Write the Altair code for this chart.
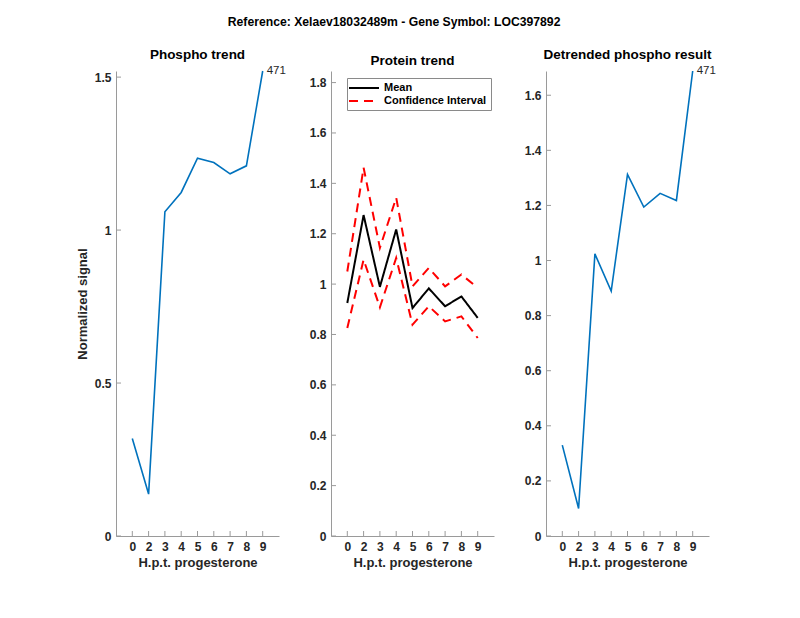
import altair as alt
import pandas as pd

hours = ["0", "2", "3", "4", "5", "6", "7", "8", "9"]
phospho = [0.319, 0.137, 1.06, 1.123, 1.235, 1.221, 1.184, 1.21, 1.52]
prot_mean = [0.925, 1.274, 0.989, 1.217, 0.905, 0.983, 0.912, 0.951, 0.866]
prot_upper = [1.05, 1.462, 1.144, 1.343, 0.991, 1.064, 0.991, 1.038, 0.985]
prot_lower = [0.826, 1.097, 0.908, 1.104, 0.839, 0.912, 0.852, 0.872, 0.786]
detrended = [0.33, 0.10, 1.024, 0.889, 1.313, 1.194, 1.244, 1.218, 1.688]
peptide_id = "471"

yticks1 = [0, 0.5, 1, 1.5]
yticks2 = [0, 0.2, 0.4, 0.6, 0.8, 1, 1.2, 1.4, 1.6, 1.8]
yticks3 = [0, 0.2, 0.4, 0.6, 0.8, 1, 1.2, 1.4, 1.6]

W, H = 163, 465
FONT = "Liberation Sans"
AX = "#9a9a9a"
TXT = "#262626"


def xenc():
    return alt.X("hour:O", sort=hours,
                 scale=alt.Scale(type="point", padding=1, domain=hours),
                 axis=alt.Axis(title="H.p.t. progesterone", labelAngle=0, ticks=False,
                               labelPadding=5, titlePadding=4))


def yenc(field, ymax, ticks, title):
    kw = dict(values=ticks, format="~g", ticks=False, grid=False, labelPadding=5,
              titlePadding=5)
    kw["title"] = title if title else None
    return alt.Y(field, scale=alt.Scale(domain=[0, ymax], nice=False, zero=True),
                 axis=alt.Axis(**kw))


def tick_layers(field, ymax, ticks, title):
    ydf = pd.DataFrame({field.split(":")[0]: ticks})
    xdf = pd.DataFrame({"hour": hours})
    yt = alt.Chart(ydf).mark_rule(color=AX, strokeWidth=1).encode(
        y=yenc(field, ymax, ticks, title), x=alt.value(0), x2=alt.value(5))
    xt = alt.Chart(xdf).mark_rule(color=AX, strokeWidth=1).encode(
        x=xenc(), y=alt.value(H), y2=alt.value(H - 5))
    return [yt, xt]


def ptitle(t):
    return alt.TitleParams(t, fontSize=13.5, fontWeight="bold", font=FONT, color="black",
                           offset=4, anchor="middle")


# Panel 1
df1 = pd.DataFrame({"hour": hours, "v": phospho})
lab1 = pd.DataFrame({"hour": [hours[-1]], "v": [phospho[-1]], "t": [peptide_id]})
l1 = alt.Chart(df1).mark_line(color="#0072BD", strokeWidth=1.6).encode(
    x=xenc(), y=yenc("v:Q", 1.52, yticks1, "Normalized signal"))
t1 = alt.Chart(lab1).mark_text(align="left", baseline="middle", dx=4, fontSize=11.5,
                               font=FONT, color=TXT).encode(
    x=xenc(), y=yenc("v:Q", 1.52, yticks1, "Normalized signal"), text="t:N")
p1 = alt.layer(*tick_layers("v:Q", 1.52, yticks1, "Normalized signal"), l1, t1).properties(
    width=W, height=H, title=ptitle("Phospho trend"))

# Panel 2
rows = []
for h, m, u, lo in zip(hours, prot_mean, prot_upper, prot_lower):
    rows.append({"hour": h, "v": m, "kind": "Mean", "band": "mean"})
    rows.append({"hour": h, "v": u, "kind": "Confidence Interval", "band": "upper"})
    rows.append({"hour": h, "v": lo, "kind": "Confidence Interval", "band": "lower"})
df2 = pd.DataFrame(rows)
leg = dict(title=None, orient="none", legendX=231, legendY=7, symbolType="M-3,0H3",
           symbolSize=100, symbolStrokeWidth=2, symbolOffset=7,
           labelFontSize=11, labelFontWeight="bold",
           labelFont=FONT, labelColor="black", strokeColor="#8a8a8a", fillColor="white",
           padding=4, rowPadding=2, labelOffset=14)
l2 = alt.Chart(df2).mark_line(strokeWidth=2).encode(
    x=xenc(), y=yenc("v:Q", 1.846, yticks2, None),
    color=alt.Color("kind:N", sort=["Mean", "Confidence Interval"],
                    scale=alt.Scale(domain=["Mean", "Confidence Interval"], range=["black", "#ff0000"]),
                    legend=alt.Legend(**leg)),
    strokeDash=alt.StrokeDash("kind:N", sort=["Mean", "Confidence Interval"],
                              scale=alt.Scale(domain=["Mean", "Confidence Interval"], range=[[1, 0], [9, 6]]),
                              legend=alt.Legend(**leg)),
    detail="band:N")
p2 = alt.layer(*tick_layers("v:Q", 1.846, yticks2, None), l2).properties(
    width=W, height=H, title=ptitle("Protein trend"))

# Panel 3
df3 = pd.DataFrame({"hour": hours, "v": detrended})
lab3 = pd.DataFrame({"hour": [hours[-1]], "v": [detrended[-1]], "t": [peptide_id]})
l3 = alt.Chart(df3).mark_line(color="#0072BD", strokeWidth=1.6).encode(
    x=xenc(), y=yenc("v:Q", 1.688, yticks3, None))
t3 = alt.Chart(lab3).mark_text(align="left", baseline="middle", dx=4, fontSize=11.5,
                               font=FONT, color=TXT).encode(
    x=xenc(), y=yenc("v:Q", 1.688, yticks3, None), text="t:N")
p3 = alt.layer(*tick_layers("v:Q", 1.688, yticks3, None), l3, t3).properties(
    width=W, height=H, title=ptitle("Detrended phospho result"))

chart = alt.hconcat(p1, p2, p3, spacing=52, bounds="flush").properties(
    title=alt.TitleParams("Reference:  Xelaev18032489m - Gene Symbol:  LOC397892",
                          fontSize=12.2, fontWeight="bold", font=FONT, color="black",
                          anchor="middle", offset=19, dx=-2),
    padding={"left": 68, "top": 8, "right": 5, "bottom": 5},
    background="white",
).configure_view(stroke=None).configure_axis(
    domainColor=AX, domainWidth=1, labelFont=FONT, labelFontSize=12, labelFontWeight="bold",
    labelColor=TXT, titleFont=FONT, titleFontSize=13, titleFontWeight="bold",
    titleColor=TXT,
)

chart.save("out.html", embed_options={"renderer": "svg", "actions": False})
